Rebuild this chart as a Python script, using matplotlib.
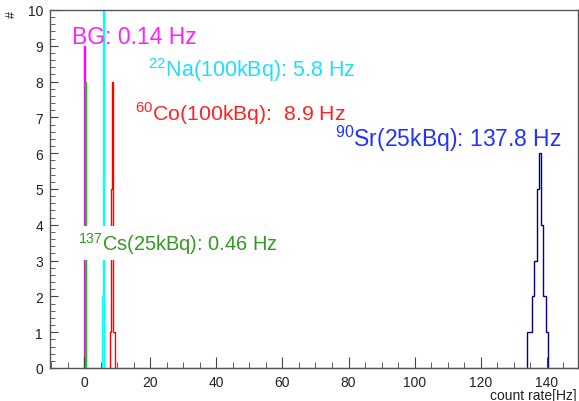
import matplotlib
matplotlib.use("Agg")
import matplotlib.pyplot as plt
from matplotlib.ticker import MultipleLocator

plt.rcParams['font.family'] = ['Liberation Sans', 'DejaVu Sans']
plt.rcParams['mathtext.fontset'] = 'custom'
plt.rcParams['mathtext.rm'] = 'Liberation Sans'

# histogram data (bin edges in Hz, counts)
bg_edges = [0.0, 0.3]
bg_counts = [9]
cs_edges = [0.2, 0.5]
cs_counts = [8]
co_edges = [7.9, 8.1, 8.5, 8.7, 8.9, 9.4]
co_counts = [1, 5, 8, 5, 1]
sr_edges = [134.0, 135.5, 136.1, 136.9, 137.6, 138.2, 138.7, 139.7, 140.2]
sr_counts = [1, 2, 3, 5, 6, 4, 2, 1]
na_edges = [0.0, 5.45, 5.8, 5.95, 6.05, 6.15, 150.0]
na_counts = [0, 2, 10, 7, 5, 0]

fig = plt.figure(figsize=(5.79, 4.02), dpi=100)
ax = fig.add_axes([50/579, 33/402, 528/579, 358/402])

ax.stairs(bg_counts, bg_edges, color='#ff00ff', lw=1.0)
ax.stairs(cs_counts, cs_edges, color='#22bb22', lw=1.0)
ax.stairs(co_counts, co_edges, color='#ff0000', lw=1.0)
ax.stairs(sr_counts, sr_edges, color='#000099', lw=1.0)
ax.stairs(na_counts, na_edges, color='#00ffff', lw=1.0, clip_on=False)

ax.set_xlim(-10.3, 149.4)
ax.set_ylim(0, 10)

ax.xaxis.set_major_locator(MultipleLocator(20))
ax.xaxis.set_minor_locator(MultipleLocator(5))
ax.yaxis.set_major_locator(MultipleLocator(1))
ax.yaxis.set_minor_locator(MultipleLocator(0.2))
ax.tick_params(which='both', direction='in', color='#444444', labelcolor='#222222',
               labelsize=10)
ax.tick_params(axis='x', which='major', length=8, pad=5)
ax.tick_params(axis='x', which='minor', length=4.5)
ax.tick_params(axis='y', which='major', length=6, pad=5)
ax.tick_params(axis='y', which='minor', length=3.5)
for s in ax.spines.values():
    s.set_color('#555555')
    s.set_linewidth(1)

# labels
ax.text(-3.6, 9.08, 'BG: 0.14 Hz', color='#ff22ff', fontsize=16.5)
ax.text(19.35, 8.16, r'$^{22}$Na(100kBq): 5.8 Hz', color='#22ddff', fontsize=15.5)
ax.text(15.4, 6.93, r'$^{60}$Co(100kBq):  8.9 Hz', color='#ff2222', fontsize=15.3)
ax.text(75.9, 6.2, r'$^{90}$Sr(25kBq): 137.8 Hz', color='#2233ff', fontsize=16.5)
ax.text(-1.8, 3.3, r'$^{137}$Cs(25kBq): 0.46 Hz', color='#339922', fontsize=14.4,
        bbox=dict(facecolor='white', edgecolor='none', pad=3))

fig.text(577/579, 1 - 396/402, 'count rate[Hz]', ha='right', va='center',
         fontsize=10, color='#222222')
fig.text(12/579, 1 - 14/402, '#', rotation=90, ha='center', va='center',
         fontsize=9, color='#222222')

fig.savefig('out.png', dpi=100)
